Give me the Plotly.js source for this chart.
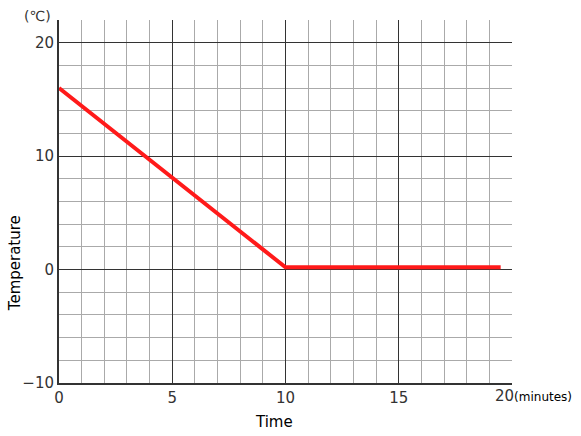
<!DOCTYPE html>
<html><head><meta charset="utf-8">
<script src="https://cdn.plot.ly/plotly-3.0.1.min.js"></script>
<style>body{margin:0;padding:0;background:#fff}#c{width:581px;height:436px}</style>
</head><body><div id="c"></div>
<script>
const timeMin = [0, 10, 19.5];
const tempC = [16, 0.2, 0.2];
const xTicks = [0, 5, 10, 15, 20];
const xTickText = ['0', '5', '10', '15', ''];
const lastXTick = '20';
const yTicks = [-10, 0, 10, 20];
const yTickText = ['\u221210', '0', '10', '20'];

const tickFont = {family: 'DejaVu Sans, sans-serif', size: 15, color: '#333'};
const titleFont = {family: 'DejaVu Sans, sans-serif', size: 15, color: '#000'};
Plotly.newPlot('c', [{
  x: timeMin, y: tempC, type: 'scatter', mode: 'lines',
  line: {color: '#ff1a1a', width: 4}, hoverinfo: 'skip'
}], {
  width: 581, height: 436,
  margin: {l: 59, r: 69, t: 20, b: 53},
  paper_bgcolor: '#fff', plot_bgcolor: '#fff',
  showlegend: false,
  xaxis: {
    range: [0, 20], tickvals: xTicks, ticktext: xTickText,
    showgrid: true, gridcolor: '#333', gridwidth: 1.2,
    minor: {dtick: 1, showgrid: true, gridcolor: '#aaa', gridwidth: 1},
    zeroline: false, showline: true, linecolor: '#333', linewidth: 2,
    ticks: '', tickfont: tickFont,
    fixedrange: true
  },
  yaxis: {
    range: [-10, 22], tickvals: yTicks, ticktext: yTickText,
    showgrid: true, gridcolor: '#333', gridwidth: 1.2,
    minor: {dtick: 2, tick0: 0, showgrid: true, gridcolor: '#aaa', gridwidth: 1},
    zeroline: false, showline: true, linecolor: '#333', linewidth: 2,
    ticks: '', tickfont: tickFont,
    fixedrange: true
  },
  annotations: [
    {text: 'Time', xref: 'paper', yref: 'paper', x: 0.474, y: 0, xanchor: 'center', yanchor: 'top',
     yshift: -28, showarrow: false, font: titleFont},
    {text: 'Temperature', xref: 'paper', yref: 'paper', x: 0, y: 0.33, xanchor: 'center', yanchor: 'middle',
     xshift: -44, textangle: -90, showarrow: false, font: titleFont},
    {text: '(\u2103)', xref: 'paper', yref: 'paper', x: 0, y: 1, xanchor: 'right', yanchor: 'bottom',
     xshift: -6, yshift: -6, showarrow: false, font: {family: 'DejaVu Sans, sans-serif', size: 14, color: '#333'}},
    {text: '<span style="font-size:15px;color:#333">' + lastXTick + '</span><span style="font-size:12px">(minutes)</span>',
     xref: 'paper', yref: 'paper', x: 1, y: 0, xanchor: 'left', yanchor: 'top',
     xshift: -19, yshift: -2, showarrow: false, font: {family: 'DejaVu Sans, sans-serif', size: 12, color: '#000'}}
  ]
}, {displayModeBar: false, staticPlot: true});
</script></body></html>
